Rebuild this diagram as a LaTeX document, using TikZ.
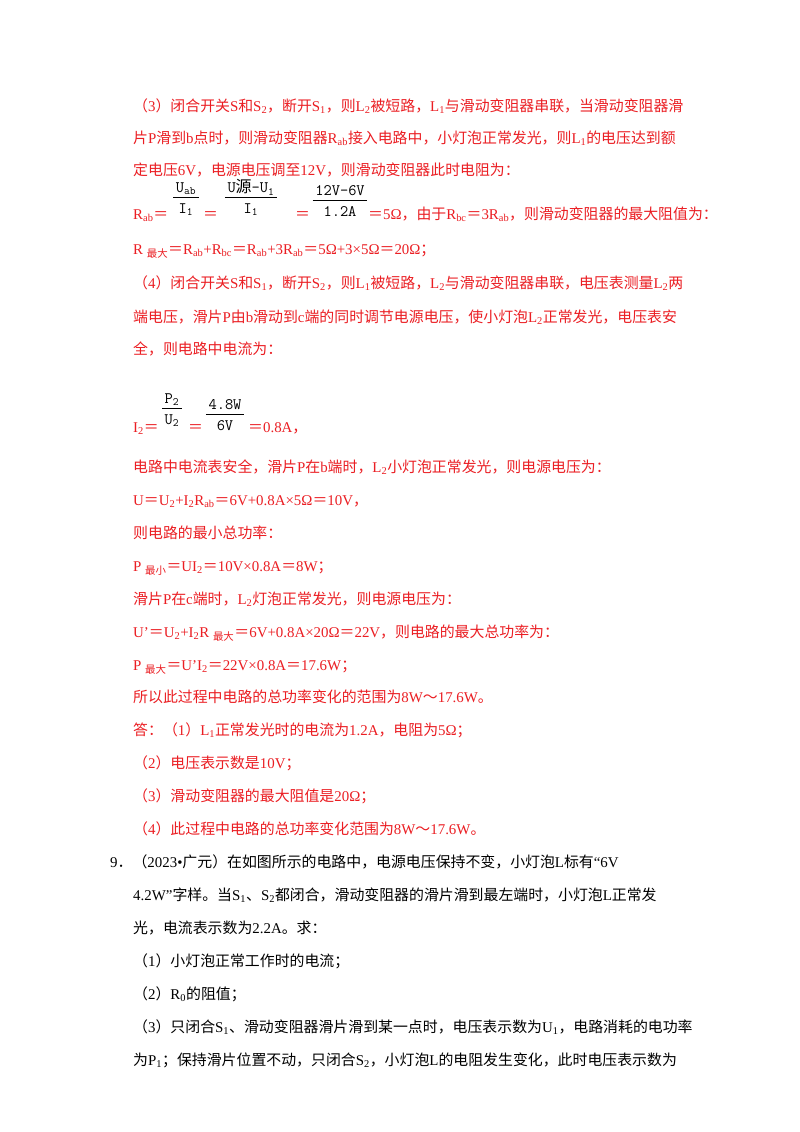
\documentclass[tikz,border=0pt]{standalone}
\usepackage{fontspec}
\setmainfont{Liberation Serif}
\newfontfamily\cjk{Noto Sans CJK SC}
\XeTeXinterchartokenstate=1
\newXeTeXintercharclass\CJKcls
\count255="3000
\loop\XeTeXcharclass\count255=\CJKcls\ifnum\count255<"9FFF\advance\count255 by1\repeat
\count255="FF00
\loop\XeTeXcharclass\count255=\CJKcls\ifnum\count255<"FFEF\advance\count255 by1\repeat
\XeTeXinterchartoks 0 \CJKcls={\begingroup\cjk}
\XeTeXinterchartoks 4095 \CJKcls={\begingroup\cjk}
\XeTeXinterchartoks \CJKcls 0={\endgroup}
\XeTeXinterchartoks \CJKcls 4095={\endgroup}
\definecolor{ansred}{RGB}{235,30,35}
\newcommand\sub[1]{\textsubscript{#1}}
\newcommand\fr[2]{\begin{tabular}{@{\,}c@{\,}}#1\\[-1pt]\hline\rule{0pt}{16pt}#2\end{tabular}}
\begin{document}
\begin{tikzpicture}[x=1pt,y=1pt,
  txt/.style={anchor=base west,inner sep=0,text=ansred,font=\fontsize{14.9}{16}\selectfont},
  blk/.style={txt,text=black},
  frac/.style={inner sep=0,text=black,font=\ttfamily\fontsize{16}{18}\selectfont}]
\useasboundingbox[fill=white] (0,0) rectangle (800,-1132);
\node[txt] (l1) at (133,-111) {（3）闭合开关S和S\sub{2}，断开S\sub{1}，则L\sub{2}被短路，L\sub{1}与滑动变阻器串联，当滑动变阻器滑};
\node[txt] (l2) at (133,-143) {片P滑到b点时，则滑动变阻器R\sub{ab}接入电路中，小灯泡正常发光，则L\sub{1}的电压达到额};
\node[txt] (l3) at (133,-175) {定电压6V，电源电压调至12V，则滑动变阻器此时电阻为：};
\node[txt] (l4) at (133,-219) {R\sub{ab}＝};
\node[frac] (f1) at (186,-199) {\fr{U\sub{ab}}{I\sub{1}}};
\node[txt] (e1) at (203,-219) {＝};
\node[frac] (f2) at (251,-199) {\fr{U\rmfamily\cjk 源\ttfamily-U\sub{1}}{I\sub{1}}};
\node[txt] (e2) at (295,-219) {＝};
\node[frac] (f3) at (340,-202) {\fr{12V-6V}{1.2A}};
\node[txt] (l4b) at (368,-219) {＝5Ω，由于R\sub{bc}＝3R\sub{ab}，则滑动变阻器的最大阻值为：};
\node[txt] (l5) at (133,-254) {R \sub{最大}＝R\sub{ab}+R\sub{bc}＝R\sub{ab}+3R\sub{ab}＝5Ω+3×5Ω＝20Ω；};
\node[txt] (l6) at (133,-288) {（4）闭合开关S和S\sub{1}，断开S\sub{2}，则L\sub{1}被短路，L\sub{2}与滑动变阻器串联，电压表测量L\sub{2}两};
\node[txt] (l7) at (133,-322) {端电压，滑片P由b滑动到c端的同时调节电源电压，使小灯泡L\sub{2}正常发光，电压表安};
\node[txt] (l8) at (133,-354) {全，则电路中电流为：};
\node[txt] (l9) at (133,-432) {I\sub{2}＝};
\node[frac] (f4) at (172,-410) {\fr{P\sub{2}}{U\sub{2}}};
\node[txt] (e3) at (188,-432) {＝};
\node[frac] (f5) at (225,-416) {\fr{4.8W}{6V}};
\node[txt] (l9b) at (248,-432) {＝0.8A，};
\node[txt] (l10) at (133,-472) {电路中电流表安全，滑片P在b端时，L\sub{2}小灯泡正常发光，则电源电压为：};
\node[txt] (l11) at (133,-505) {U＝U\sub{2}+I\sub{2}R\sub{ab}＝6V+0.8A×5Ω＝10V，};
\node[txt] (l12) at (133,-538) {则电路的最小总功率：};
\node[txt] (l13) at (133,-571) {P \sub{最小}＝UI\sub{2}＝10V×0.8A＝8W；};
\node[txt] (l14) at (133,-604) {滑片P在c端时，L\sub{2}灯泡正常发光，则电源电压为：};
\node[txt] (l15) at (133,-637) {U'＝U\sub{2}+I\sub{2}R \sub{最大}＝6V+0.8A×20Ω＝22V，则电路的最大总功率为：};
\node[txt] (l16) at (133,-670) {P \sub{最大}＝U'I\sub{2}＝22V×0.8A＝17.6W；};
\node[txt] (l17) at (133,-702) {所以此过程中电路的总功率变化的范围为8W～17.6W。};
\node[txt] (l18) at (133,-735) {答：（1）L\sub{1}正常发光时的电流为1.2A，电阻为5Ω；};
\node[txt] (l19) at (133,-768) {（2）电压表示数是10V；};
\node[txt] (l20) at (133,-801) {（3）滑动变阻器的最大阻值是20Ω；};
\node[txt] (l21) at (133,-834) {（4）此过程中电路的总功率变化范围为8W～17.6W。};
\node[blk] (q1) at (110,-867) {9．（2023•广元）在如图所示的电路中，电源电压保持不变，小灯泡L标有“6V};
\node[blk] (q2) at (133,-900) {4.2W”字样。当S\sub{1}、S\sub{2}都闭合，滑动变阻器的滑片滑到最左端时，小灯泡L正常发};
\node[blk] (q3) at (133,-933) {光，电流表示数为2.2A。求：};
\node[blk] (q4) at (133,-966) {（1）小灯泡正常工作时的电流；};
\node[blk] (q5) at (133,-999) {（2）R\sub{0}的阻值；};
\node[blk] (q6) at (133,-1032) {（3）只闭合S\sub{1}、滑动变阻器滑片滑到某一点时，电压表示数为U\sub{1}，电路消耗的电功率};
\node[blk] (q7) at (133,-1065) {为P\sub{1}；保持滑片位置不动，只闭合S\sub{2}，小灯泡L的电阻发生变化，此时电压表示数为};
\end{tikzpicture}
\end{document}
